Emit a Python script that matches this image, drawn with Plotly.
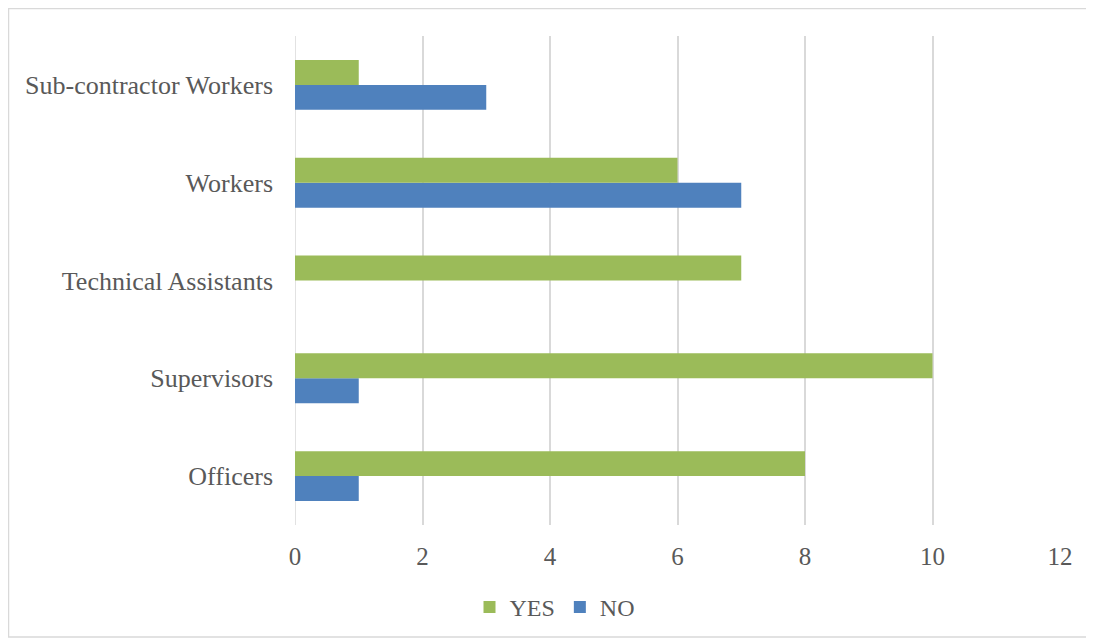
import plotly.graph_objects as go

categories = ["Officers", "Supervisors", "Technical Assistants", "Workers", "Sub-contractor Workers"]
yes_values = [8, 10, 7, 6, 1]
no_values = [1, 1, 0, 7, 3]
x_ticks = [0, 2, 4, 6, 8, 10, 12]

FONT = "Liberation Serif"
L, T, R, B = 287, 28, 42, 126
PW, PH = 1094 - L - R, 643 - T - B

fig = go.Figure()
fig.add_trace(go.Bar(y=categories, x=no_values, name="NO", orientation="h",
                     marker=dict(color="#4F81BD", line=dict(width=0))))
fig.add_trace(go.Bar(y=categories, x=yes_values, name="YES", orientation="h",
                     marker=dict(color="#9BBB59", line=dict(width=0))))

fig.update_layout(
    width=1094, height=643,
    barmode="group", bargap=0.49, bargroupgap=0,
    margin=dict(l=L, r=R, t=T, b=B),
    plot_bgcolor="white", paper_bgcolor="white",
    font=dict(family=FONT, size=25, color="#595959"),
    showlegend=True,
    legend=dict(orientation="h", traceorder="reversed", xref="container", yref="container",
                x=0.5, xanchor="center", y=0.068, yanchor="middle",
                itemwidth=30, font=dict(family=FONT, size=24, color="#595959")),
    xaxis=dict(range=[0, 12], tickvals=x_ticks, showgrid=True, gridcolor="#D9D9D9", gridwidth=1.5,
               zeroline=False, showline=False, ticks="", ticklabelstandoff=14,
               tickfont=dict(size=25)),
    yaxis=dict(showgrid=False, zeroline=False, showline=False, ticks="", ticklabelstandoff=21,
               tickfont=dict(size=26)),
)
fig.add_shape(type="line", xref="x", yref="paper", x0=0, x1=0, y0=0, y1=1,
              line=dict(color="#D9D9D9", width=1.5), layer="below")
# Outer border of the chart
fig.add_shape(type="rect", xref="paper", yref="paper",
              x0=-(L - 0.5) / PW, x1=(1080 - L) / PW,
              y0=-(629 - (T + PH)) / PH, y1=1 + (T - 0.5) / PH,
              line=dict(color="#D9D9D9", width=1.5))
fig.write_html("out.html")
